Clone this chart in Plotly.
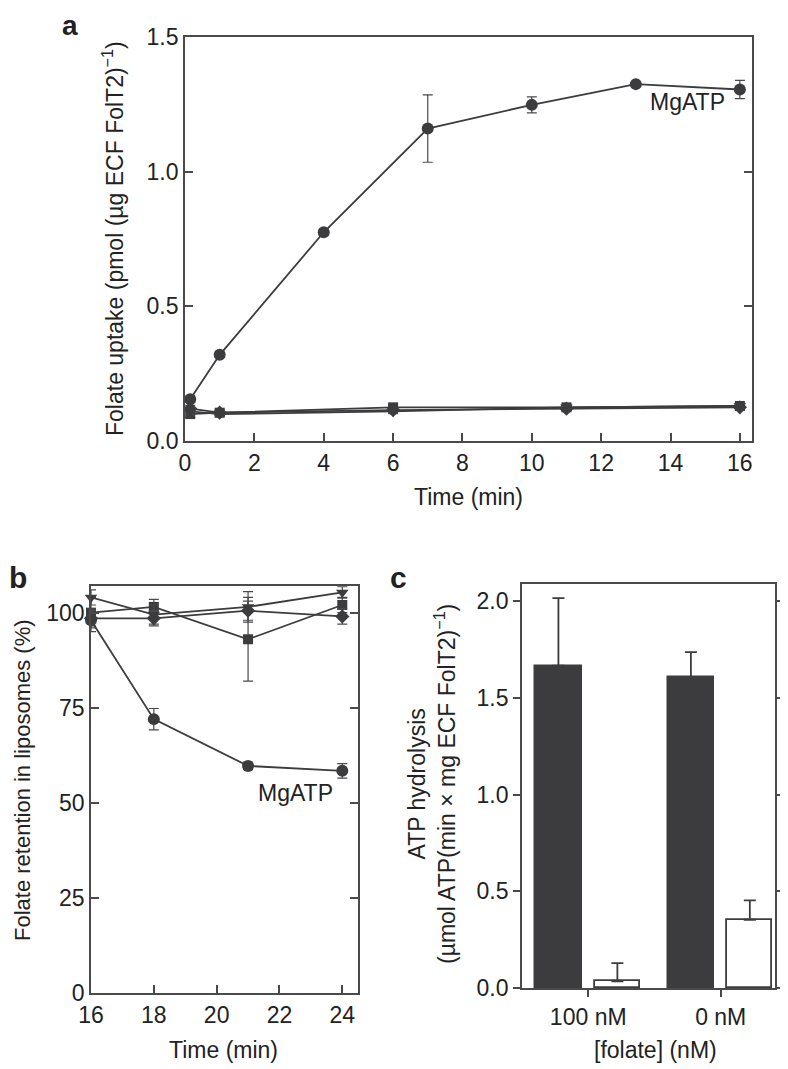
import plotly.graph_objects as go

# ---------------- Data ----------------
# Panel a: folate uptake vs time
a_time_mg = [0.15, 1, 4, 7, 10, 13, 16]
a_mg = [0.155, 0.32, 0.775, 1.16, 1.248, 1.325, 1.305]
a_mg_err = [0.012, 0.01, 0.012, 0.125, 0.03, 0.006, 0.034]
a_time_ctrl = [0.15, 1, 6, 11, 16]
a_sq = [0.10, 0.105, 0.125, 0.125, 0.13]
a_tri = [0.11, 0.10, 0.11, 0.125, 0.13]
a_dia = [0.12, 0.105, 0.115, 0.12, 0.125]
a_ctrl_err = [0.012, 0.01, 0.008, 0.008, 0.008]

# Panel b: folate retention
b_time = [16, 18, 21, 24]
b_mg = [98, 72, 59.7, 58.4]
b_mg_err = [3, 2.8, 1, 1.9]
b_sq = [100, 101.5, 93, 102]
b_sq_err = [4, 2, 11, 2]
b_tri = [104, 99.5, 101.5, 105.3]
b_tri_err = [2, 2.5, 4, 1.5]
b_dia = [98.5, 98.5, 100.5, 99]
b_dia_err = [2, 2, 2.5, 2]

# Panel c: ATP hydrolysis
c_cats = ["100 nM", "0 nM"]
c_dark = [1.667, 1.61]
c_dark_err = [0.35, 0.128]
c_white = [0.034, 0.353]
c_white_err = [0.095, 0.10]

# ---------------- Style ----------------
DARK = "#3c3c3e"
AX = "#4a4a4a"
FONT = "Liberation Sans, Arial, Helvetica, sans-serif"
W, H = 780, 1061   # page adds an 8 px body margin
OFF = 8
FS = 23


def px(x):
    return (x - OFF) / W


def py(y):
    return 1 - (y - OFF) / H


fig = go.Figure()


def line_trace(x, y, err, symbol, xa, ya, size=11):
    fig.add_trace(go.Scatter(
        x=x, y=y, mode="lines+markers", xaxis=xa, yaxis=ya,
        line=dict(color=DARK, width=1.8),
        marker=dict(symbol=symbol, size=size, color=DARK),
        error_y=dict(type="data", array=err, visible=True, color=AX,
                     thickness=1.2, width=5),
        cliponaxis=False, showlegend=False))


# Panel a
line_trace(a_time_ctrl, a_sq, a_ctrl_err, "square", "x", "y", 10)
line_trace(a_time_ctrl, a_tri, a_ctrl_err, "triangle-down", "x", "y", 11)
line_trace(a_time_ctrl, a_dia, a_ctrl_err, "diamond", "x", "y", 11)
line_trace(a_time_mg, a_mg, a_mg_err, "circle", "x", "y", 12)

# Panel b
line_trace(b_time, b_sq, b_sq_err, "square", "x2", "y2", 10)
line_trace(b_time, b_tri, b_tri_err, "triangle-down", "x2", "y2", 11)
line_trace(b_time, b_dia, b_dia_err, "diamond", "x2", "y2", 11)
line_trace(b_time, b_mg, b_mg_err, "circle", "x2", "y2", 12)

# Panel c
fig.add_trace(go.Bar(
    x=c_cats, y=c_dark, xaxis="x3", yaxis="y3", width=0.35, offset=-0.40,
    marker=dict(color=DARK, line=dict(color=DARK, width=1.5)),
    error_y=dict(type="data", array=c_dark_err, arrayminus=[0, 0],
                 symmetric=False, visible=True, color=DARK, thickness=1.8, width=6),
    showlegend=False, name="MgATP"))
fig.add_trace(go.Bar(
    x=c_cats, y=c_white, xaxis="x3", yaxis="y3", width=0.34, offset=0.05,
    marker=dict(color="white", line=dict(color=DARK, width=1.8)),
    error_y=dict(type="data", array=c_white_err, arrayminus=[0, 0],
                 symmetric=False, visible=True, color=DARK, thickness=1.8, width=6),
    showlegend=False, name="no ATP"))

tickfont = dict(family=FONT, size=FS, color="#222")
common = dict(showgrid=False, zeroline=False, showline=True, linecolor=AX,
              linewidth=1.8, tickcolor=AX, tickwidth=1.5, tickfont=tickfont,
              automargin=False)

fig.update_layout(
    width=W, height=H,
    margin=dict(l=0, r=0, t=0, b=0),
    paper_bgcolor="white", plot_bgcolor="white",
    font=dict(family=FONT, size=FS, color="#222"),
    bargap=0,
    xaxis=dict(domain=[px(185), px(752)], anchor="y", range=[0, 16.35],
               tickvals=[0, 2, 4, 6, 8, 10, 12, 14, 16], ticks="inside",
               ticklen=8, mirror=True, **common),
    yaxis=dict(domain=[py(441), py(37)], anchor="x", range=[0, 1.5],
               tickvals=[0, 0.5, 1.0, 1.5], ticktext=["0.0", "0.5", "1.0", "1.5"],
               ticks="inside", ticklen=8, mirror="ticks", **common),
    xaxis2=dict(domain=[px(91), px(358)], anchor="y2", range=[16, 24.5],
                tickvals=[16, 18, 20, 22, 24], ticks="inside", ticklen=8,
                mirror=True, **common),
    yaxis2=dict(domain=[py(993), py(586)], anchor="x2", range=[0, 107],
                tickvals=[0, 25, 50, 75, 100], ticks="inside", ticklen=8,
                mirror="ticks", **common),
    xaxis3=dict(domain=[px(522), px(775)], anchor="y3", range=[-0.5, 1.41],
                type="category", ticks="outside", ticklen=7, mirror=True,
                **common),
    yaxis3=dict(domain=[py(988), py(584)], anchor="x3", range=[0, 2.09],
                tickvals=[0, 0.5, 1.0, 1.5, 2.0],
                ticktext=["0.0", "0.5", "1.0", "1.5", "2.0"],
                ticks="outside", ticklen=7, mirror="ticks", **common),
)

annos = [
    # panel letters
    dict(text="<b>a</b>", x=px(70), y=1.0, size=28, ya="top"),
    dict(text="<b>b</b>", x=px(18), y=py(577), size=30),
    dict(text="<b>c</b>", x=px(398), y=py(577), size=30),
    # axis titles
    dict(text="Folate uptake (pmol (µg ECF FolT2)<sup>−1</sup>)", x=px(113),
         y=py(239), size=FS, angle=-90),
    dict(text="Time (min)", x=px(468), y=py(497), size=FS),
    dict(text="Folate retention in liposomes (%)", x=px(22), y=py(780),
         size=22, angle=-90),
    dict(text="Time (min)", x=px(223), y=py(1050), size=FS),
    dict(text="ATP hydrolysis<br>(µmol ATP(min × mg ECF FolT2)<sup>−1</sup>)",
         x=px(432), y=py(784), size=FS, angle=-90),
    dict(text="[folate] (nM)", x=px(655), y=py(1050), size=FS),
]
for a in annos:
    fig.add_annotation(text=a["text"], x=a["x"], y=a["y"], xref="paper",
                       yref="paper", showarrow=False, textangle=a.get("angle", 0),
                       xanchor="center", yanchor=a.get("ya", "middle"),
                       font=dict(family=FONT, size=a["size"], color="#222"))

fig.add_annotation(text="MgATP", x=14.5, y=1.258, xref="x", yref="y",
                   showarrow=False, font=dict(family=FONT, size=FS, color="#222"))
fig.add_annotation(text="MgATP", x=22.5, y=52.6, xref="x2", yref="y2",
                   showarrow=False, font=dict(family=FONT, size=FS, color="#222"))

fig.write_html("out.html")
